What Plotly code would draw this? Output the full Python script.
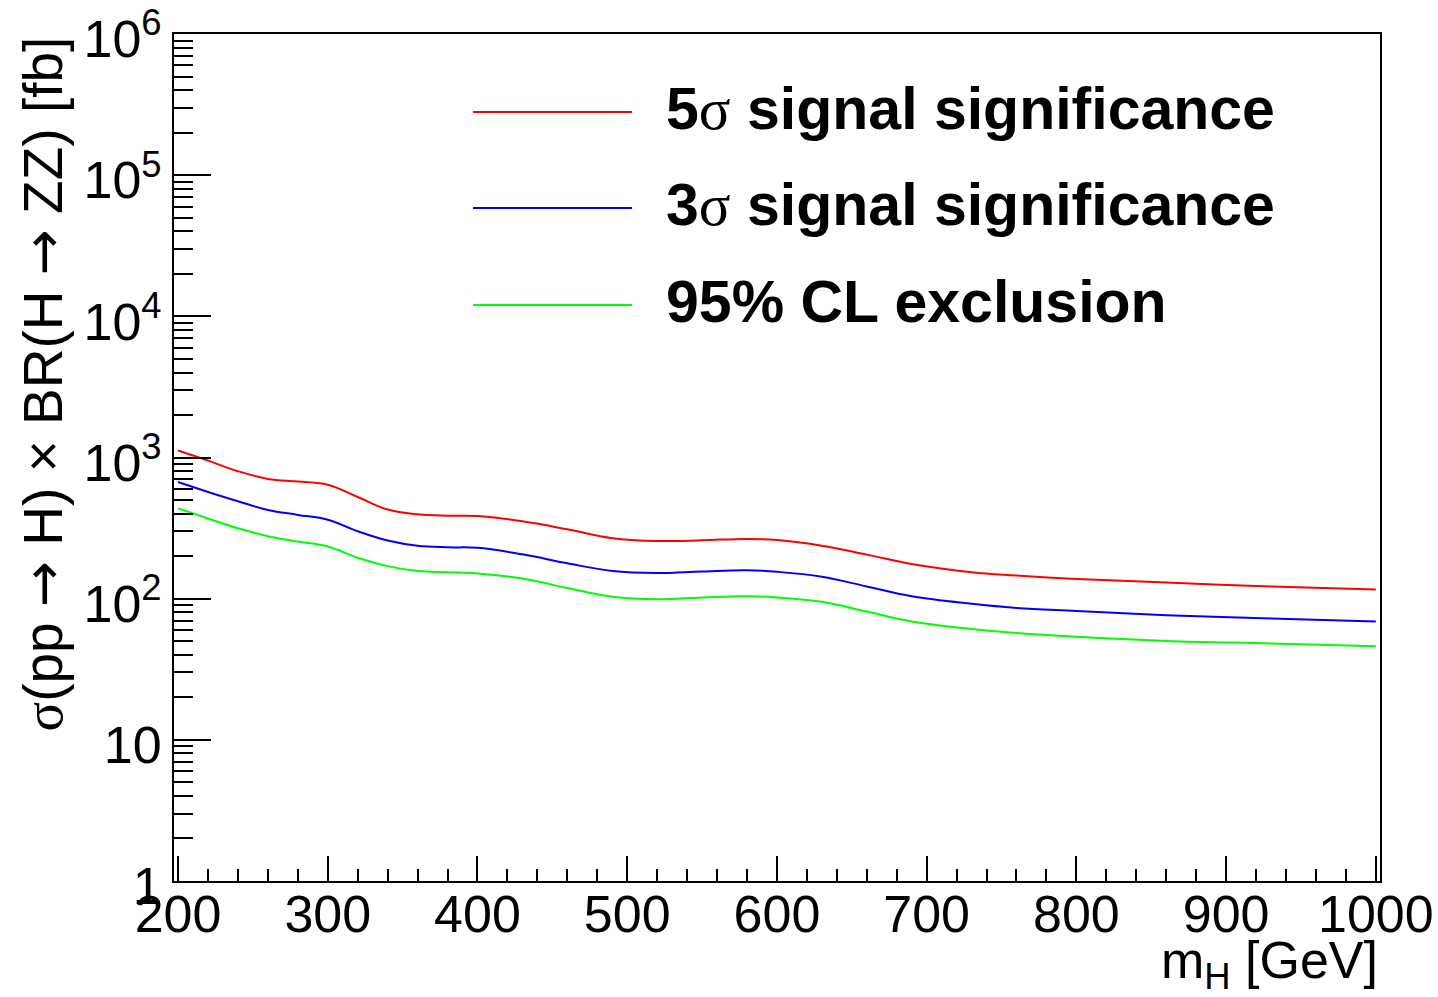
import plotly.graph_objects as go

# ---- data ----
mass = [200, 220, 240, 260, 280, 300, 320, 340, 360, 380, 400, 430, 460, 490,
        520, 550, 580, 600, 630, 660, 690, 730, 760, 800, 860, 930, 1000]
sig5 = [1120, 950, 800, 705, 675, 642, 525, 428, 396, 387, 385, 353, 310, 268,
        256, 259, 265, 260, 237, 205, 176, 154, 146, 138, 130, 122, 116]
sig3 = [670, 570, 490, 425, 392, 362, 300, 258, 237, 231, 229, 206, 178, 157,
        152, 156, 159, 155, 143, 122, 104, 92, 86, 81.8, 76.3, 72.3, 69]
excl95 = [436, 370, 315, 277, 254, 234, 195, 170, 157, 154, 151, 139, 119, 103,
          99, 102, 104, 102, 95, 81, 69, 61, 57, 53.6, 50.2, 48.1, 46]

SIG = "<span style='font-family:Liberation Serif;font-weight:normal'>σ</span>"
series_names = ["5" + SIG + " signal significance",
                "3" + SIG + " signal significance",
                "95% CL exclusion"]
series_vals = [sig5, sig3, excl95]
series_colors = ["#ff0000", "#0000ff", "#00ff00"]

y_tickvals = [1, 10, 100, 1000, 1e4, 1e5, 1e6]
y_ticktext = ["1", "10", "10<sup>2</sup>", "10<sup>3</sup>", "10<sup>4</sup>",
              "10<sup>5</sup>", "10<sup>6</sup>"]
y_minor = [m * 10 ** k for k in range(0, 6) for m in range(2, 10)]

FONT = "Liberation Sans, Arial, Helvetica, sans-serif"

fig = go.Figure()
for name, vals, col in zip(series_names, series_vals, series_colors):
    fig.add_trace(go.Scatter(x=mass, y=vals, mode="lines", name=name,
                             line=dict(color=col, width=2, shape="spline", smoothing=1.1),
                             showlegend=False))

# manual legend (long line samples like the ROOT legend)
leg_y = [0.9079, 0.7946, 0.6800]
for name, col, yy in zip(series_names, series_colors, leg_y):
    fig.add_shape(type="line", xref="paper", yref="paper", x0=0.2479, x1=0.3798,
                  y0=yy, y1=yy, line=dict(color=col, width=2))
    fig.add_annotation(xref="paper", yref="paper", x=0.406, y=yy, xanchor="left",
                       yanchor="middle", yshift=3, text="<b>" + name + "</b>", showarrow=False,
                       font=dict(family=FONT, size=59, color="black"))

ARROW = "<span style='font-family:DejaVu Sans'>→</span>"
# axis titles
fig.add_annotation(xref="paper", yref="paper", x=1, y=0, xanchor="right", yanchor="top",
                   yshift=-48, showarrow=False,
                   text="m<sub>H</sub> [GeV]", font=dict(family=FONT, size=52, color="black"))
fig.add_annotation(xref="paper", yref="paper", x=0, y=1, xanchor="center", yanchor="top",
                   xshift=-132, yshift=-1, textangle=-90, showarrow=False,
                   text="<span style='font-family:Liberation Serif'>σ</span>(pp " + ARROW
                        + " H) × BR(H " + ARROW + " ZZ) [fb]",
                   font=dict(family=FONT, size=55, color="black"))

fig.update_layout(
    width=1438, height=997,
    margin=dict(l=174, r=58, t=34, b=116),
    plot_bgcolor="white", paper_bgcolor="white",
    font=dict(family=FONT, size=52, color="black"),
    xaxis=dict(range=[197.3, 1002.8], tickmode="linear", tick0=200, dtick=100,
               ticks="inside", ticklen=25, tickwidth=1.5, tickcolor="black",
               showline=True, linecolor="black", linewidth=2, mirror=True,
               showgrid=False, zeroline=False, automargin=False, ticklabelstandoff=-13,
               ticklabeloverflow="allow",
               minor=dict(ticks="inside", ticklen=12, tickwidth=1.5, tickcolor="black",
                          dtick=20, tick0=200, showgrid=False),
               tickfont=dict(family=FONT, size=52)),
    yaxis=dict(type="log", range=[-0.0005, 6.0005], tickmode="array", tickvals=y_tickvals,
               ticktext=y_ticktext, ticks="inside", ticklen=37, tickwidth=1.5,
               tickcolor="black", showline=True, linecolor="black", linewidth=2,
               mirror=True, showgrid=False, zeroline=False, ticklabelstandoff=0,
               ticklabelshift=5,
               automargin=False, ticklabeloverflow="allow",
               minor=dict(ticks="inside", ticklen=19, tickwidth=1.5, tickcolor="black",
                          tickmode="array", tickvals=y_minor, showgrid=False),
               tickfont=dict(family=FONT, size=52)),
)

fig.write_html("out.html")
